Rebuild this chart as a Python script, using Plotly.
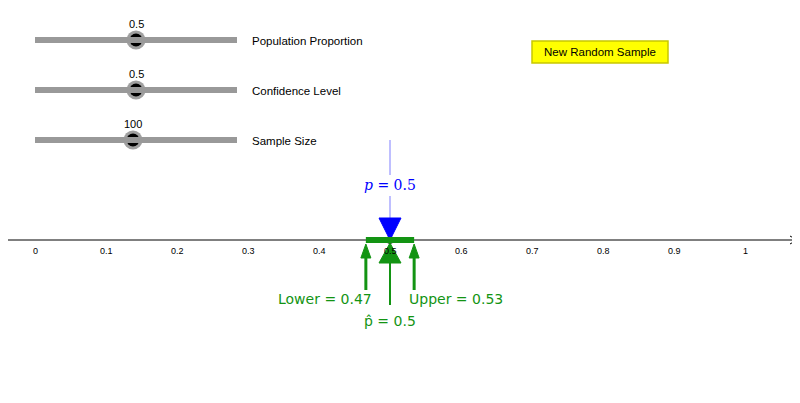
import plotly.graph_objects as go

p = 0.5
p_hat = 0.5
lower = 0.466
upper = 0.534
lower_label = "0.47"
upper_label = "0.53"
ticks = [0, 0.1, 0.2, 0.3, 0.4, 0.5, 0.6, 0.7, 0.8, 0.9, 1]
tick_labels = ["0", "0.1", "0.2", "0.3", "0.4", "0.5", "0.6", "0.7", "0.8", "0.9", "1"]
slider_names = ["Population Proportion", "Confidence Level", "Sample Size"]
slider_values = ["0.5", "0.5", "100"]
slider_frac = [0.5, 0.5, 0.485]

GREEN = "#139413"
BLUE = "#0000ff"
ARIAL = "Liberation Sans, Arial"
X0, SC = 35, 710.0  # pixel of 0 and px per unit
def px(v): return (v - X0) / SC
def py(v): return 240 - v

fig = go.Figure()
shapes, ann = [], []

# sliders
for i, (name, val, f) in enumerate(zip(slider_names, slider_values, slider_frac)):
    yy = py(40 + 50 * i)
    shapes.append(dict(type="line", x0=px(35), x1=px(237), y0=yy, y1=yy,
                       line=dict(color="#999999", width=6)))
    kx = px(35 + f * 202)
    fig.add_trace(go.Scatter(x=[kx], y=[yy], mode="markers",
                             marker=dict(size=19, color="#888888", opacity=0.8),
                             hoverinfo="skip"))
    fig.add_trace(go.Scatter(x=[kx], y=[yy], mode="markers",
                             marker=dict(size=13, color="black", line=dict(width=0)),
                             hoverinfo="skip"))
    ann.append(dict(x=kx, y=yy + 16, text=val, showarrow=False, font=dict(size=11, color="black", family=ARIAL)))
    ann.append(dict(x=px(250), y=yy - 1, text=name, showarrow=False, xanchor="left",
                    font=dict(size=11.5, color="black", family=ARIAL)))

# button
shapes.append(dict(type="rect", x0=px(532), x1=px(668), y0=py(41), y1=py(63),
                   fillcolor="#ffff00", line=dict(color="#c8c800", width=1.5)))
ann.append(dict(x=px(600), y=py(52), text="New Random Sample", showarrow=False,
                font=dict(size=11.5, color="black", family=ARIAL)))

# axis
shapes.append(dict(type="line", x0=px(0), x1=px(797), y0=0, y1=0, line=dict(color="black", width=1)))
shapes.append(dict(type="path", path=f"M {px(790)} 4 L {px(797)} 0 L {px(790)} -4",
                   line=dict(color="black", width=1)))
for t, lab in zip(ticks, tick_labels):
    ann.append(dict(x=t, y=-11, text=lab, showarrow=False, font=dict(size=9, color="black", family=ARIAL)))

# blue p indicator
shapes.append(dict(type="line", x0=p, x1=p, y0=py(140), y1=py(175), line=dict(color="#aaaaff", width=1.5)))
shapes.append(dict(type="line", x0=p, x1=p, y0=py(196), y1=py(220), line=dict(color="#aaaaff", width=1.5)))
ann.append(dict(x=p, y=py(185), text="<i>p</i> = 0.5", showarrow=False,
                font=dict(size=14, color=BLUE, family="DejaVu Serif")))
hw = 11 / SC
shapes.append(dict(type="path", path=f"M {p-hw} 22 L {p+hw} 22 L {p} 0 Z",
                   fillcolor=BLUE, line=dict(color=BLUE, width=1)))

# green interval
shapes.append(dict(type="line", x0=lower, x1=upper, y0=0, y1=0, line=dict(color=GREEN, width=6)))
for v in [lower, upper]:
    shapes.append(dict(type="line", x0=v, x1=v, y0=py(290), y1=py(250), line=dict(color=GREEN, width=3)))
    sw = 5 / SC
    shapes.append(dict(type="path", path=f"M {v-sw} {py(258)} L {v+sw} {py(258)} L {v} {py(244)} Z",
                       fillcolor=GREEN, line=dict(color=GREEN, width=1)))
shapes.append(dict(type="line", x0=p_hat, x1=p_hat, y0=py(305), y1=py(255), line=dict(color=GREEN, width=2)))
shapes.append(dict(type="path", path=f"M {p_hat-hw} {py(263)} L {p_hat+hw} {py(263)} L {p_hat} {py(243)} Z",
                   fillcolor=GREEN, line=dict(color=GREEN, width=1)))
fig.add_trace(go.Scatter(x=[p_hat], y=[0], mode="markers",
                         marker=dict(size=7, color="rgba(0,0,0,0)", line=dict(color="black", width=1)),
                         hoverinfo="skip"))
ann.append(dict(x=lower, y=py(299), text="Lower = " + lower_label, showarrow=False, xanchor="right",
                xshift=8, font=dict(size=14, color=GREEN)))
ann.append(dict(x=upper, y=py(299), text="Upper = " + upper_label, showarrow=False, xanchor="left",
                xshift=-7, font=dict(size=14, color=GREEN)))
ann.append(dict(x=p_hat, y=py(321), text="p̂ = 0.5", showarrow=False, font=dict(size=14, color=GREEN)))

# page body has an 8px margin, so the drawing area starts at pixel 8
fig.update_layout(width=800, height=403, margin=dict(l=0, r=0, t=0, b=0),
                  paper_bgcolor="white", plot_bgcolor="white", showlegend=False,
                  shapes=shapes, annotations=ann,
                  font=dict(family="DejaVu Sans"),
                  xaxis=dict(range=[px(8), px(808)], visible=False, fixedrange=True),
                  yaxis=dict(range=[py(411), py(8)], visible=False, fixedrange=True))
fig.write_html("out.html")
